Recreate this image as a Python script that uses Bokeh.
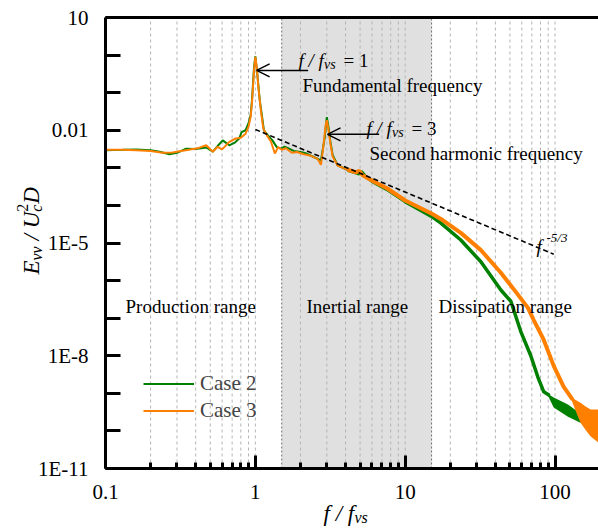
import math
from bokeh.plotting import figure
from bokeh.models import (FixedTicker, LogAxis, BoxAnnotation, Arrow, OpenHead,
                          Label, Legend, LegendItem)
from bokeh.embed import file_html
from bokeh.resources import INLINE

# ---------------- data ----------------
case2_f = [0.1, 0.13, 0.16, 0.2, 0.23, 0.267, 0.3, 0.345, 0.4, 0.47, 0.52, 0.56, 0.606, 0.67,
           0.73, 0.78, 0.81, 0.86, 0.9, 0.93, 0.95, 0.98, 1.0, 1.03, 1.07, 1.11, 1.14, 1.21,
           1.3, 1.39, 1.49, 1.56, 1.64, 1.8, 2.0, 2.2, 2.47, 2.74, 2.9, 3.0, 3.1, 3.17, 3.28,
           3.54, 4.13, 4.94, 5.1, 5.4, 6.2, 7.6, 10.0, 15.2, 17.3, 23.5, 32.0, 43.5, 50.7,
           59.0, 68.9, 76.7, 84.1, 92.0]
case2_E = [2.95e-3, 3.02e-3, 3.09e-3, 2.95e-3, 2.69e-3, 2.29e-3, 2.51e-3, 3.24e-3, 3.16e-3,
           3.47e-3, 2.69e-3, 3.80e-3, 5.37e-3, 3.98e-3, 4.68e-3, 6.03e-3, 8.91e-3, 1.00e-2,
           1.51e-2, 2.51e-2, 6.31e-2, 0.479, 0.923, 0.324, 6.31e-2, 2.24e-2, 1.00e-2, 7.41e-3,
           5.37e-3, 3.55e-3, 3.24e-3, 3.63e-3, 3.39e-3, 2.82e-3, 2.63e-3, 2.40e-3, 1.91e-3,
           1.58e-3, 6.17e-3, 2.24e-2, 1.00e-2, 4.90e-3, 2.19e-3, 1.17e-3, 8.71e-4, 6.92e-4,
           7.94e-4, 6.03e-4, 4.07e-4, 2.63e-4, 1.26e-4, 4.90e-5, 3.39e-5, 1.20e-5, 3.16e-6,
           5.62e-7, 2.82e-7, 4.47e-8, 1.00e-8, 2.75e-9, 1.10e-9, 8.71e-10]
case2_band_f = [90.0, 98.0, 122.0, 142.0, 160.0]
case2_band_hi = [9.55e-10, 7.76e-10, 5.01e-10, 3.24e-10, 2.51e-10]
case2_band_lo = [8.32e-10, 4.17e-10, 2.40e-10, 1.78e-10, 1.41e-10]

case3_f = [0.1, 0.13, 0.16, 0.2, 0.24, 0.28, 0.32, 0.36, 0.42, 0.47, 0.52, 0.56, 0.6, 0.67,
           0.74, 0.8, 0.86, 0.9, 0.93, 0.95, 0.98, 1.0, 1.02, 1.05, 1.09, 1.13, 1.2, 1.27,
           1.35, 1.42, 1.5, 1.6, 1.75, 1.9, 2.1, 2.35, 2.6, 2.74, 2.85, 2.95, 3.0, 3.08,
           3.17, 3.28, 3.54, 4.13, 4.7, 4.94, 5.2, 6.2, 7.6, 10.0, 15.2, 17.3, 23.5, 32.0,
           43.5, 54.7, 65.8, 72.1, 84.1, 98.0, 114.0, 131.0]
case3_E = [3.02e-3, 3.02e-3, 2.95e-3, 2.82e-3, 2.51e-3, 2.57e-3, 2.82e-3, 3.02e-3, 3.39e-3,
           3.98e-3, 2.69e-3, 3.63e-3, 3.09e-3, 4.90e-3, 6.03e-3, 6.31e-3, 8.13e-3, 1.23e-2,
           2.24e-2, 5.62e-2, 0.398, 0.891, 0.501, 0.126, 3.16e-2, 1.12e-2, 7.08e-3, 5.01e-3,
           2.40e-3, 3.55e-3, 3.02e-3, 3.31e-3, 2.51e-3, 2.63e-3, 2.29e-3, 2.09e-3, 1.74e-3,
           1.20e-3, 3.98e-3, 1.41e-2, 1.86e-2, 1.00e-2, 4.37e-3, 2.00e-3, 1.15e-3, 8.91e-4,
           7.59e-4, 8.32e-4, 6.31e-4, 4.27e-4, 2.82e-4, 1.35e-4, 5.89e-5, 4.37e-5, 1.86e-5,
           6.46e-6, 1.62e-6, 5.01e-7, 1.91e-7, 8.91e-8, 2.63e-8, 5.37e-9, 1.51e-9, 6.76e-10]
case3_band_f = [128.0, 140.0, 148.0, 160.0, 173.0, 195.0]
case3_band_hi = [7.94e-10, 6.31e-10, 5.62e-10, 4.47e-10, 3.72e-10, 3.72e-10]
case3_band_lo = [7.08e-10, 2.82e-10, 1.66e-10, 1.05e-10, 7.08e-11, 4.90e-11]

ref_f = [1.0, 98.0]          # f^-5/3 reference line
ref_E = [1.05e-2, 5.04e-6]

inertial_range = [1.5, 15.0]

x_limits = [0.1, 195.0]
y_limits = [1e-11, 10.0]
x_ticks = [0.1, 1.0, 10.0, 100.0]
x_tick_labels = ["0.1", "1", "10", "100"]
x_minor_ticks = [0.2, 0.3, 0.4, 0.5, 0.6, 0.7, 0.8, 0.9, 2.0, 3.0, 4.0, 5.0, 6.0, 7.0, 8.0, 9.0,
                 20.0, 30.0, 40.0, 50.0, 60.0, 70.0, 80.0, 90.0]
y_ticks = [1e-11, 1e-10, 1e-9, 1e-8, 1e-7, 1e-6, 1e-5, 1e-4, 1e-3, 1e-2, 1e-1, 1.0, 10.0]
y_tick_labels = ["1E-11", "", "", "1E-8", "", "", "1E-5", "", "", "0.01", "", "", "10"]

# ---------------- layout ----------------
W, H = 598, 528
AX_L, AX_R, AX_T, AX_B = 105, 598, 17, 468     # axes box in page pixels
SERIF = "Liberation Serif"
GREEN = "#008000"
ORANGE = "#ff8000"
NB = "\u00a0"

# the frame fills the whole page; the axes sit at fixed data locations inside it
dx = (AX_R - AX_L) / math.log10(x_limits[1] / x_limits[0])
dy = (AX_B - AX_T) / math.log10(y_limits[1] / y_limits[0])
xr = (x_limits[0] * 10 ** (-AX_L / dx), x_limits[1] * 10 ** ((W - AX_R) / dx))
yr = (y_limits[0] * 10 ** (-(H - AX_B) / dy), y_limits[1] * 10 ** (AX_T / dy))

p = figure(width=W, height=H, x_axis_type="log", y_axis_type="log",
           x_range=xr, y_range=yr, output_backend="svg", toolbar_location=None,
           min_border=0, min_border_left=0, min_border_right=0,
           min_border_top=0, min_border_bottom=0)
p.outline_line_color = None
p.background_fill_color = "white"
p.border_fill_color = "white"
p.xgrid.visible = False
p.ygrid.visible = False

xt = FixedTicker(ticks=x_ticks, minor_ticks=x_minor_ticks)
xa = p.below[0]
xa.fixed_location = y_limits[0]
xa.bounds = tuple(x_limits)
xa.ticker = xt
xa.major_label_overrides = dict(zip(x_ticks, x_tick_labels))
xa.axis_line_width = 3
xa.major_tick_line_width = 3
xa.minor_tick_line_width = 3
xa.major_tick_in = 13
xa.major_tick_out = 0
xa.minor_tick_in = 6
xa.minor_tick_out = 0
xa.major_label_standoff = 16
xa.major_label_text_font = SERIF
xa.major_label_text_font_size = "21px"
xa.major_label_text_color = "black"

ya = p.left[0]
ya.fixed_location = x_limits[0]
ya.bounds = tuple(y_limits)
ya.ticker = FixedTicker(ticks=y_ticks)
ya.major_label_overrides = dict(zip(y_ticks, y_tick_labels))
ya.axis_line_width = 3
ya.major_tick_line_width = 3
ya.major_tick_in = 15
ya.major_tick_out = 0
ya.minor_tick_line_color = None
ya.major_label_standoff = 17
ya.major_label_text_font = SERIF
ya.major_label_text_font_size = "21px"
ya.major_label_text_color = "black"

top = LogAxis(fixed_location=y_limits[1], bounds=tuple(x_limits),
              ticker=FixedTicker(ticks=[]), axis_line_width=3,
              major_tick_line_color=None, minor_tick_line_color=None,
              major_label_text_font_size="0px")
p.add_layout(top, "above")

# shaded inertial range
band = BoxAnnotation(left=inertial_range[0], right=inertial_range[1],
                     bottom=y_limits[0], top=y_limits[1], fill_color="#e0e0e0",
                     fill_alpha=1.0, line_color=None, level="image")
p.add_layout(band)

# vertical dashed grid at every x tick
grid_x = sorted(x_minor_ticks + x_ticks[1:])
p.segment(x0=grid_x, x1=grid_x, y0=[y_limits[0]] * len(grid_x), y1=[y_limits[1]] * len(grid_x),
          line_color="#b4b4b4", line_dash="3 3", line_width=1, level="underlay")
p.segment(x0=inertial_range, x1=inertial_range, y0=[y_limits[0]] * 2, y1=[y_limits[1]] * 2,
          line_color="#707070", line_dash="2 2", line_width=1, level="underlay")

# curves
g_line = p.line(case2_f, case2_E, line_color=GREEN, line_width=2)
g_hi = [i for i, f in enumerate(case2_f) if f >= 4.0]
p.line([case2_f[i] for i in g_hi], [case2_E[i] for i in g_hi], line_color=GREEN, line_width=3.5)
p.varea(x=case2_band_f, y1=case2_band_lo, y2=case2_band_hi, fill_color=GREEN)

o_line = p.line(case3_f, case3_E, line_color=ORANGE, line_width=2)
o_hi = [i for i, f in enumerate(case3_f) if f >= 4.0]
p.line([case3_f[i] for i in o_hi], [case3_E[i] for i in o_hi], line_color=ORANGE, line_width=4)
p.varea(x=case3_band_f, y1=case3_band_lo, y2=case3_band_hi, fill_color=ORANGE)

p.line(ref_f, ref_E, line_color="black", line_width=1.6, line_dash="5 3")

# arrows to the two peaks
p.add_layout(Arrow(end=OpenHead(size=13, line_width=1.5, line_color="black"),
                   x_start=2.25, y_start=0.39, x_end=1.02, y_end=0.39,
                   line_width=1.5, line_color="black"))
p.add_layout(Arrow(end=OpenHead(size=13, line_width=1.5, line_color="black"),
                   x_start=6.7, y_start=7.8e-3, x_end=3.03, y_end=7.8e-3,
                   line_width=1.5, line_color="black"))


def lab(text, X, Y, size, italic=False, angle=0.0):
    p.add_layout(Label(x=X, y=H - Y, x_units="screen", y_units="screen", text=text,
                       text_font=SERIF, text_font_size=f"{size}px",
                       text_font_style="italic" if italic else "normal",
                       text_color="black", text_align="left", text_baseline="alphabetic",
                       angle=angle))


# peak annotations
lab("f / f", 298, 60, 19, True)
lab("vs", 323.5, 64, 14, True)
lab("= 1", 343, 60, 19)
lab("Fundamental frequency", 302, 85, 19)
lab("f / f", 366, 128, 19, True)
lab("vs", 391.5, 132, 14, True)
lab("= 3", 411, 128, 19)
lab("Second harmonic frequency", 369, 153, 19)
# range labels
lab("Production range", 125, 306, 19)
lab("Inertial range", 306, 306, 19)
lab("Dissipation range", 438, 306, 19)
# f^-5/3
lab("f", 536, 246, 19, True)
lab("-5/3", 546, 237, 13, True)
# x axis title
lab("f / f", 323, 513, 23, True)
lab("vs", 354, 517, 16, True)
# y axis title (rotated)
R = math.pi / 2
lab("E", 31, 274, 23, True, R)
lab("vv", 36, 260, 16, True, R)
lab(NB + "/" + NB, 31, 245.7, 23, True, R)
lab("U", 31, 227.8, 23, True, R)
lab("2", 22, 211.2, 16, False, R)
lab("c", 36, 211.2, 16, True, R)
lab("D", 31, 203.2, 23, True, R)

legend = Legend(items=[LegendItem(label="Case 2", renderers=[g_line]),
                       LegendItem(label="Case 3", renderers=[o_line])],
                location=(143, 104), glyph_width=51, glyph_height=27, label_height=27,
                spacing=0, padding=0, margin=0, label_standoff=6,
                label_text_font=SERIF, label_text_font_size="21px",
                background_fill_alpha=0, border_line_color=None)
p.add_layout(legend)

open("out.html", "w").write(file_html(p, INLINE))
